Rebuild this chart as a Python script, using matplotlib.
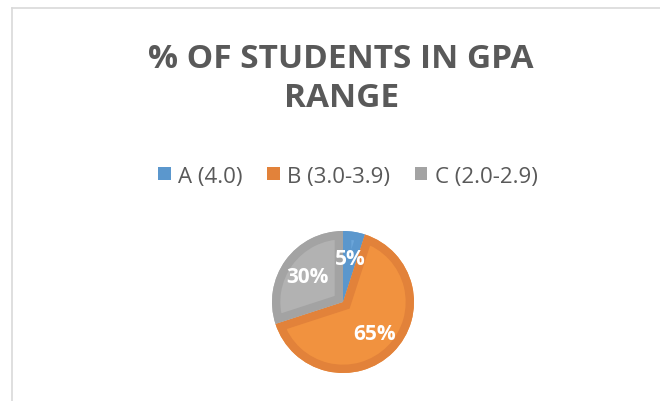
import matplotlib.pyplot as plt
from matplotlib.patches import Patch
from matplotlib.lines import Line2D

plt.rcParams['font.family'] = ['Open Sans', 'DejaVu Sans']

# data
labels = ['A (4.0)', 'B (3.0-3.9)', 'C (2.0-2.9)']
shares = [5, 65, 30]
fill_colors = ['#6BA5D9', '#F1923F', '#B2B2B2']
edge_colors = ['#5B97CD', '#E2823A', '#A3A3A3']
title = '% OF STUDENTS IN GPA\nRANGE'

fig = plt.figure(figsize=(6.6, 4.02), dpi=100)

# chart frame (only left and top edges are visible in the crop)
fig.add_artist(Line2D([11.5 / 660, 11.5 / 660], [0, 1 - 8.5 / 402],
                      color='#D9D9D9', lw=1.2))
fig.add_artist(Line2D([11.5 / 660, 1], [1 - 8.5 / 402, 1 - 8.5 / 402],
                      color='#D9D9D9', lw=1.2))

fig.text(0.517, 1 - 79 / 402, title, ha='center', va='center',
         fontsize=24, fontweight='bold', color='#595959', linespacing=1.25)

handles = [Patch(facecolor=c, edgecolor='none') for c in edge_colors]
fig.legend(handles, labels, loc='center', bbox_to_anchor=(348 / 660, 1 - 177 / 402),
           ncol=3, frameon=False, fontsize=16, labelcolor='#595959',
           handlelength=0.55, handleheight=0.55, handletextpad=0.35,
           columnspacing=1.1)

ax = fig.add_axes([272 / 660, (402 - 374) / 402, 142 / 660, 142 / 402])
wedges, texts, autotexts = ax.pie(
    shares, colors=fill_colors, startangle=90, counterclock=False,
    autopct='%d%%', pctdistance=0.62, radius=1,
    textprops=dict(color='white', fontsize=15, fontweight='bold', zorder=5))
# darker inner rim on each slice: stroke clipped to the slice itself
rims, _ = ax.pie(shares, startangle=90, counterclock=False, radius=1,
                 wedgeprops=dict(fill=False, linewidth=12))
for r, w, ec in zip(rims, wedges, edge_colors):
    r.set_edgecolor(ec)
    r.set_clip_on(True)
    r.set_clip_path(w)
ax.set_xlim(-1, 1)
ax.set_ylim(-1, 1)
ax.set_aspect('equal')
ax.axis('off')

fig.savefig('out.png', dpi=100)
